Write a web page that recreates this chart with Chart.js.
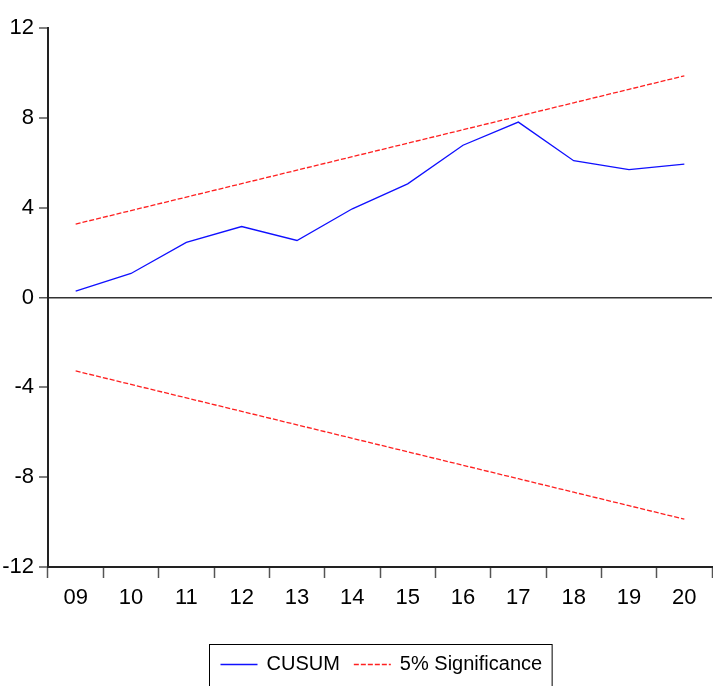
<!DOCTYPE html>
<html>
<head>
<meta charset="utf-8">
<script src="https://cdn.jsdelivr.net/npm/chart.js@4"></script>
<style>
  html, body { margin: 0; padding: 0; background: #fff; }
  #wrap { width: 713px; height: 686px; position: relative; }
</style>
</head>
<body>
<div id="wrap"><canvas id="c" width="713" height="686"></canvas></div>
<script>
// Recursive CUSUM test with 5% significance bounds
const years = ['09', '10', '11', '12', '13', '14', '15', '16', '17', '18', '19', '20'];
const cusum = [0.28, 1.07, 2.45, 3.16, 2.54, 3.95, 5.06, 6.78, 7.81, 6.09, 5.69, 5.94];
const upperBound = [3.27, 3.87, 4.47, 5.07, 5.67, 6.27, 6.87, 7.47, 8.07, 8.67, 9.27, 9.87];
const lowerBound = [-3.27, -3.87, -4.47, -5.07, -5.67, -6.27, -6.87, -7.47, -8.07, -8.67, -9.27, -9.87];
const yTicks = [-12, -8, -4, 0, 4, 8, 12];

const FONT = "'Liberation Sans', Arial, Helvetica, sans-serif";

// Boxed legend centred under the plot area
const boxedLegend = {
  id: 'boxedLegend',
  afterDraw(chart) {
    const ctx = chart.ctx;
    const items = chart.data.datasets.filter(d => d.label);
    ctx.save();
    ctx.font = '20px ' + FONT;
    const padL = 11, lineLen = 37, gapLT = 9, gapItem = 14, padR = 10;
    let total = padL + padR;
    items.forEach((d, i) => {
      total += lineLen + gapLT + ctx.measureText(d.label).width;
      if (i < items.length - 1) total += gapItem;
    });
    const ca = chart.chartArea;
    const left = Math.round((ca.left + ca.right) / 2 - total / 2) + 0.5;
    const top = 644.5;
    const cy = 664;
    ctx.strokeStyle = '#000';
    ctx.lineWidth = 1;
    ctx.strokeRect(left, top, total, 60);
    let x = left + padL;
    items.forEach(d => {
      ctx.beginPath();
      ctx.strokeStyle = d.borderColor;
      ctx.lineWidth = d.borderWidth;
      ctx.setLineDash(d.borderDash || []);
      ctx.moveTo(x, cy + 0.5);
      ctx.lineTo(x + lineLen, cy + 0.5);
      ctx.stroke();
      ctx.setLineDash([]);
      x += lineLen + gapLT;
      ctx.fillStyle = '#000';
      ctx.textBaseline = 'middle';
      ctx.textAlign = 'left';
      ctx.fillText(d.label, x, cy);
      x += ctx.measureText(d.label).width + gapItem;
    });
    ctx.restore();
  }
};

new Chart(document.getElementById('c'), {
  type: 'line',
  data: {
    labels: years,
    datasets: [
      {
        label: 'CUSUM',
        data: cusum,
        borderColor: '#1010ff',
        borderWidth: 1.3,
        pointRadius: 0,
        tension: 0,
        fill: false
      },
      {
        label: '5% Significance',
        data: upperBound,
        borderColor: '#ff2020',
        borderWidth: 1.3,
        borderDash: [5, 2],
        pointRadius: 0,
        tension: 0,
        fill: false
      },
      {
        label: '',
        data: lowerBound,
        borderColor: '#ff2020',
        borderWidth: 1.3,
        borderDash: [5, 2],
        pointRadius: 0,
        tension: 0,
        fill: false
      }
    ]
  },
  options: {
    responsive: false,
    animation: false,
    events: [],
    layout: { padding: { left: 0, right: 1, top: 28, bottom: 69 } },
    plugins: {
      legend: { display: false },
      tooltip: { enabled: false },
      title: { display: false }
    },
    scales: {
      x: {
        type: 'category',
        offset: true,
        afterFit(scale) { scale.height = 50; },
        grid: {
          offset: true,
          drawOnChartArea: false,
          drawTicks: true,
          tickLength: 11,
          tickColor: '#555',
          tickWidth: 1.5
        },
        border: { display: true, color: '#222', width: 2 },
        ticks: {
          color: '#000',
          font: { family: FONT, size: 22 },
          padding: 7,
          maxRotation: 0,
          autoSkip: false
        }
      },
      y: {
        min: -12,
        max: 12,
        afterFit(scale) { scale.width = 48; },
        afterBuildTicks(scale) { scale.ticks = yTicks.map(v => ({ value: v })); },
        grid: {
          drawOnChartArea: true,
          color: ctx => (ctx.tick && ctx.tick.value === 0) ? '#333' : 'rgba(0,0,0,0)',
          lineWidth: ctx => (ctx.tick && ctx.tick.value === 0) ? 1.5 : 0,
          drawTicks: true,
          tickLength: 9,
          tickColor: '#555',
          tickWidth: 1.5
        },
        border: { display: true, color: '#222', width: 2 },
        ticks: {
          color: '#000',
          font: { family: FONT, size: 22 },
          padding: 5
        }
      }
    }
  },
  plugins: [boxedLegend]
});
</script>
</body>
</html>
